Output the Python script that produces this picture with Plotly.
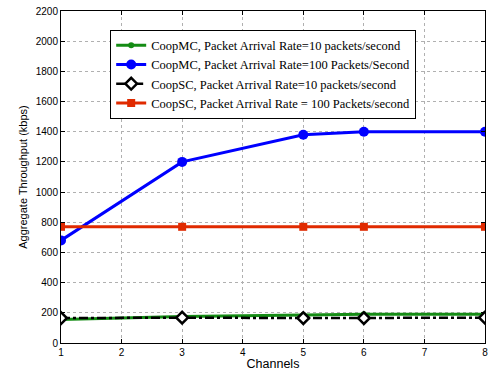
import plotly.graph_objects as go

channels = [1, 3, 5, 6, 8]
mc_10 = [155, 175, 185, 190, 190]
mc_100 = [680, 1200, 1380, 1400, 1400]
sc_10 = [165, 168, 165, 165, 168]
sc_100 = [770, 770, 770, 770, 770]
names = [
    "CoopMC, Packet Arrival Rate=10 packets/second",
    "CoopMC, Packet Arrival Rate=100 Packets/Second",
    "CoopSC, Packet Arrival Rate=10 packets/second",
    "CoopSC, Packet Arrival Rate = 100 Packets/second",
]
x_ticks = [1, 2, 3, 4, 5, 6, 7, 8]
y_ticks = list(range(0, 2201, 200))

fig = go.Figure()
fig.add_trace(go.Scatter(x=channels, y=mc_10, name=names[0], mode="lines+markers",
                         line=dict(color="#148c14", width=3),
                         marker=dict(symbol="circle", size=6, color="#148c14")))
fig.add_trace(go.Scatter(x=channels, y=mc_100, name=names[1], mode="lines+markers",
                         line=dict(color="#0000ff", width=3),
                         marker=dict(symbol="circle", size=10, color="#0000ff")))
fig.add_trace(go.Scatter(x=channels, y=sc_10, name=names[2], mode="lines+markers",
                         line=dict(color="black", width=2.5, dash="dashdot"),
                         marker=dict(symbol="diamond", size=9, color="white",
                                     line=dict(color="black", width=2.5))))
fig.add_trace(go.Scatter(x=channels, y=sc_100, name=names[3], mode="lines+markers",
                         line=dict(color="#e02a00", width=3),
                         marker=dict(symbol="square", size=8, color="#e02a00")))

axis_common = dict(showline=True, linecolor="black", linewidth=1, mirror="ticks",
                   ticks="inside", ticklen=4, tickcolor="black", automargin=False,
                   showgrid=True, gridcolor="#b0b0b0", griddash="dot", gridwidth=1,
                   zeroline=False, tickfont=dict(family="Liberation Sans, Arial", size=10, color="black"))

fig.update_layout(
    width=492, height=372,
    margin=dict(l=61, r=7, t=11, b=29),
    paper_bgcolor="white", plot_bgcolor="white",
    xaxis=dict(range=[1, 8], tickvals=x_ticks,
               title=dict(text="Channels", standoff=2,
                          font=dict(family="Liberation Sans, Arial", size=12.5, color="black")),
               **axis_common),
    yaxis=dict(range=[0, 2200], tickvals=y_ticks,
               title=dict(text="Aggregate Throughput (kbps)", standoff=5,
                          font=dict(family="Liberation Sans, Arial", size=11, color="black")),
               **axis_common),
    legend=dict(x=0.116, y=0.944, xanchor="left", yanchor="top",
                bgcolor="white", bordercolor="black", borderwidth=1,
                font=dict(family="Liberation Serif, Times New Roman", size=12.5, color="black"),
                tracegroupgap=0, itemwidth=30),
    showlegend=True,
)

fig.write_html("out.html", config={"displayModeBar": False},
               post_script="document.body.style.margin='0';")
